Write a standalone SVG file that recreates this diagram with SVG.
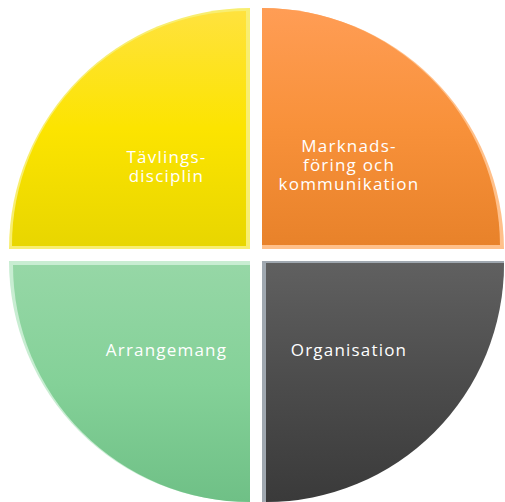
<svg xmlns="http://www.w3.org/2000/svg" width="505" height="502" viewBox="0 0 505 502">
<defs>
<linearGradient id="gy" x1="0" y1="0" x2="0" y2="1"><stop offset="0" stop-color="#FFE23E"/><stop offset="0.5" stop-color="#FCE400"/><stop offset="1" stop-color="#E8D600"/></linearGradient>
<linearGradient id="go" x1="0" y1="0" x2="0" y2="1"><stop offset="0" stop-color="#FF9D55"/><stop offset="0.5" stop-color="#F8913A"/><stop offset="1" stop-color="#E8822A"/></linearGradient>
<linearGradient id="gg" x1="0" y1="0" x2="0" y2="1"><stop offset="0" stop-color="#96D7A6"/><stop offset="0.5" stop-color="#84D198"/><stop offset="1" stop-color="#6FC086"/></linearGradient>
<linearGradient id="gd" x1="0" y1="0" x2="0" y2="1"><stop offset="0" stop-color="#606060"/><stop offset="0.5" stop-color="#4C4C4C"/><stop offset="1" stop-color="#3A3A3A"/></linearGradient>
</defs>
<style>
.t{font-family:"Open Sans","Liberation Sans",sans-serif;font-size:17px;letter-spacing:1.2px;fill:#FFFFFF;text-anchor:middle}
</style>
<g id="tavling">
<path d="M250,249 L9,249 A241,241 0 0 1 250,8 Z" fill="#F8EE70"/>
<path d="M246,246 L12,246 A234,234 0 0 1 246,11 Z" fill="url(#gy)"/>
<text class="t" x="166.5" y="163">Tävlings-</text>
<text class="t" x="166.5" y="182">disciplin</text>
</g>
<g id="marknad">
<path d="M262,249 L262,8 A242,242 0 0 1 504,249 Z" fill="#FFC08A"/>
<path d="M262,245 L262,8 A238,238 0 0 1 500,245 Z" fill="url(#go)"/>
<text class="t" x="349" y="152">Marknads-</text>
<text class="t" x="349" y="171">föring och</text>
<text class="t" x="349" y="190">kommunikation</text>
</g>
<g id="arrangemang">
<path d="M250,261 L250,502 A241,241 0 0 1 9,261 Z" fill="#C8EDD2"/>
<path d="M250,265 L250,502 A237,237 0 0 1 13,265 Z" fill="url(#gg)"/>
<text class="t" x="166.5" y="356">Arrangemang</text>
</g>
<g id="organisation">
<path d="M262,261 L504,261 A242,242 0 0 1 262,502 Z" fill="#A0A8B0"/>
<path d="M266,263 L504,263 A238,238 0 0 1 266,502 Z" fill="url(#gd)"/>
<text class="t" x="349" y="356">Organisation</text>
</g>
<g id="connectors"/>
</svg>
